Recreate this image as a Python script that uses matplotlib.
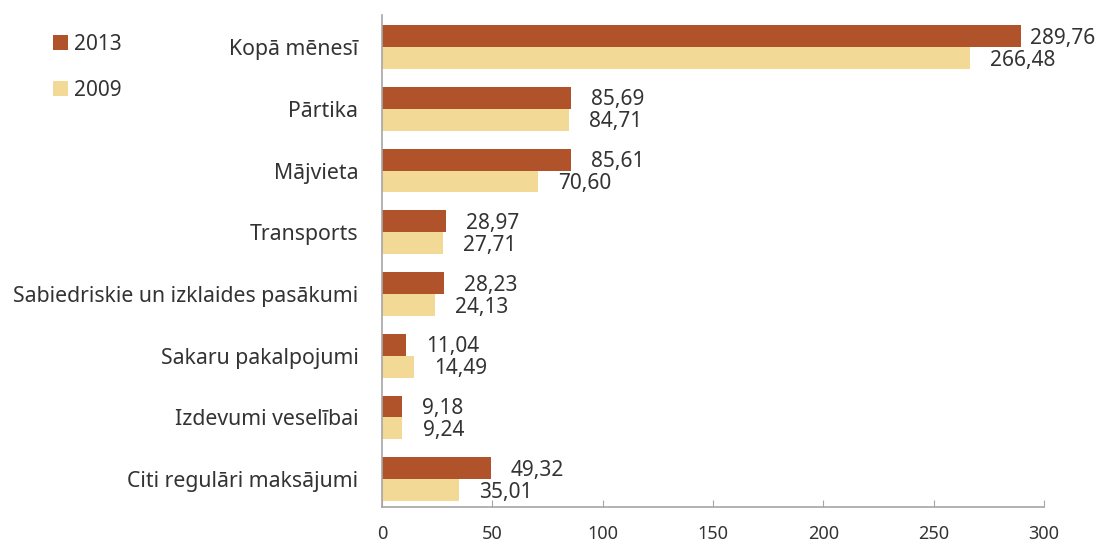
import numpy as np
import matplotlib.pyplot as plt

plt.rcParams['font.family'] = ['Noto Sans', 'DejaVu Sans']

kategorijas = ['Kopā mēnesī', 'Pārtika', 'Mājvieta', 'Transports',
               'Sabiedriskie un izklaides pasākumi', 'Sakaru pakalpojumi',
               'Izdevumi veselībai', 'Citi regulāri maksājumi']
v2013 = [289.76, 85.69, 85.61, 28.97, 28.23, 11.04, 9.18, 49.32]
v2009 = [266.48, 84.71, 70.60, 27.71, 24.13, 14.49, 9.24, 35.01]
xticks = [0, 50, 100, 150, 200, 250, 300]

c2013 = '#b0532a'
c2009 = '#f2da96'
teksts = '#333333'
ass = '#a6a6a6'

fig = plt.figure(figsize=(11.03, 5.45), dpi=100)
ax = fig.add_axes([382/1103, 1 - 507/545, 662/1103, 492/545])

y = np.arange(len(kategorijas))
h = 0.355
b1 = ax.barh(y - h/2, v2013, height=h, color=c2013, label='2013')
b2 = ax.barh(y + h/2, v2009, height=h, color=c2009, label='2009')

def fmt(v):
    return f'{v:.2f}'.replace('.', ',')

for bars, vals in [(b1, v2013), (b2, v2009)]:
    for rect, v in zip(bars, vals):
        off = 6.0 if v > 280 else 14.5
        ax.annotate(fmt(v), (v, rect.get_y() + rect.get_height()/2),
                    xytext=(off, -1.5), textcoords='offset points',
                    ha='left', va='center', fontsize=15, color=teksts)

ax.set_xlim(0, 300)
ax.set_ylim(7.45, -0.52)
ax.set_yticks(y)
ax.set_yticklabels(kategorijas)
ax.set_xticks(xticks)
ax.tick_params(axis='y', length=0, pad=17, labelsize=15.3, labelcolor=teksts)
ax.tick_params(axis='x', direction='in', length=5, color=ass, pad=13,
               labelsize=13, labelcolor=teksts)
for s in ['top', 'right']:
    ax.spines[s].set_visible(False)
for s in ['left', 'bottom']:
    ax.spines[s].set_color(ass)
    ax.spines[s].set_linewidth(1.2)

fig.legend(handles=[b1, b2], loc='upper left', bbox_to_anchor=(0.031, 0.972),
           frameon=False, fontsize=15, handlelength=0.7, handleheight=0.7,
           handletextpad=0.3, labelspacing=1.2, labelcolor=teksts)

fig.savefig('out.png', dpi=100)
